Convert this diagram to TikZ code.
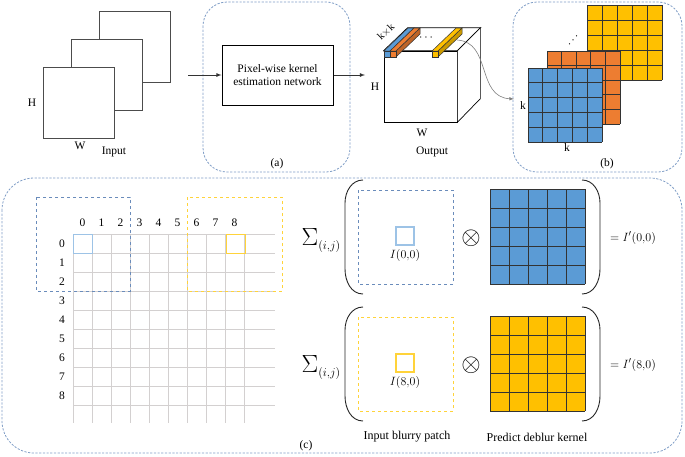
\documentclass[tikz,border=0pt]{standalone}
\usepackage{fontspec}
\setmainfont{Liberation Serif}
\usepackage{amsmath}
\usetikzlibrary{arrows, positioning, calc}
\definecolor{kblue}{HTML}{5B9BD5}
\definecolor{korange}{HTML}{ED7D31}
\definecolor{kyellow}{HTML}{FFC000}
\definecolor{frameblue}{HTML}{7F9DC6}
\definecolor{patchblue}{HTML}{6A8CBB}
\definecolor{patchyellow}{HTML}{FFD33A}
\definecolor{cellblue}{HTML}{9DC3E6}
\definecolor{gridgray}{HTML}{D3D0D0}

\begin{document}
\begin{tikzpicture}[x=1pt, y=-1pt, >=latex, font=\fontsize{11.5}{13.5}\selectfont,
    frame/.style={draw=frameblue, dash pattern=on 2.2pt off 1.5pt, line width=0.8pt},
    sheet/.style={draw=black!70, fill=white, line width=0.8pt, minimum size=71pt, inner sep=0pt},
    kline/.style={draw=black!80, line width=0.7pt},
    paren/.style={draw=black!85, line width=0.9pt}]
    \useasboundingbox (0,0) rectangle (685,456);

    % frames
    \draw[frame, rounded corners=24pt] (203,2) rectangle (350,172);
    \draw[frame, rounded corners=24pt] (513,2) rectangle (682,172);
    \draw[frame, rounded corners=32pt] (2,178) rectangle (682,453);
    \node (labA) at (277,164) {(a)};
    \node (labB) at (607,164) {(b)};
    \node (labC) at (306,446) {(c)};

    % input
    \node[sheet] (inC) at (134.5,47) {};
    \node[sheet] (inB) at (106.5,74.5) {};
    \node[sheet] (inA) at (78.5,102.5) {};
    \node (inH) at (32,103) {H};
    \node (inW) at (80,146) {W};
    \node (inLab) at (114,152) {Input};

    \node[draw, line width=1pt, minimum width=111pt, minimum height=60pt, align=center] (net) at (277.5,75) {Pixel-wise kernel\\estimation network};
    \coordinate (in0) at (188,75);
    \coordinate (out0) at (365,75);
    \draw[->, thick, black!80] (in0) -- (net.west);
    \draw[->, thick, black!80] (net.east) -- (out0);

    % output cube
    \node[draw, line width=0.7pt, minimum width=73pt, minimum height=71pt, inner sep=0pt] (cube) at (420.5,86.5) {};
    \draw[line width=0.7pt, fill=white] (cube.north west) -- ++(24,-23) -- ++(73,0) -- (cube.north east) -- cycle;
    \draw[line width=0.7pt, fill=white] (cube.north east) -- ++(23,-23) -- ++(0,71) -- (cube.south east) -- cycle;
    \foreach \bx/\bc in {384/kblue, 390/korange, 432/kyellow} {
        \draw[black!80, line width=0.5pt, fill=\bc!80!black] (\bx+6,51) -- (\bx+30,28) -- (\bx+30,34) -- (\bx+6,57) -- cycle;
        \draw[black!80, line width=0.5pt, fill=\bc] (\bx,51) -- (\bx+6,51) -- (\bx+30,28) -- (\bx+24,28) -- cycle;
        \draw[black!80, line width=0.5pt, fill=\bc] (\bx,51) rectangle (\bx+6,57);
    }
    \node[rotate=44, inner sep=0pt, font=\fontsize{10.5}{12}\selectfont] (kk) at (386,32) {k$\times$k};
    \node (cdots) at (427,38) {$\cdots$};
    \node (cubeH) at (375,87) {H};
    \node (cubeW) at (422,133) {W};
    \node (outLab) at (432,152) {Output};

    \coordinate (bar) at (457,40);
    \coordinate (kin) at (514,99);
    \draw[->, gray, line width=0.6pt] (bar) .. controls (492,42) and (476,97) .. (kin);

    % kernels in (b)
    \foreach \kx/\ky/\ks/\kc in {587/5/15/kyellow, 547/51/14.6/korange, 528/68/14.8/kblue} {
        \fill[\kc] (\kx,\ky) rectangle ({\kx+5*\ks},{\ky+5*\ks});
        \foreach \i in {0,...,5} {
            \draw[kline] ({\kx+\i*\ks},\ky) -- ({\kx+\i*\ks},{\ky+5*\ks});
            \draw[kline] (\kx,{\ky+\i*\ks}) -- ({\kx+5*\ks},{\ky+\i*\ks});
        }
    }
    \node[rotate=50, inner sep=0pt] (kdots) at (574,40) {$\cdots$};
    \node (kL) at (523,106) {k};
    \node (kB) at (567,148) {k};

    % image grid
    \foreach \i in {0,...,9} {
        \draw[gridgray, line width=0.7pt] (73+19*\i,234) -- (73+19*\i,423);
        \draw[gridgray, line width=0.7pt] (73,234+19*\i) -- (275,234+19*\i);
    }
    \foreach \i in {0,...,8} {
        \node (col\i) at (82.5+19*\i,223) {\i};
        \node (row\i) at (62,243.5+19*\i) {\i};
    }
    \draw[patchblue, dashed, line width=0.9pt] (36,197) rectangle (130,291);
    \draw[patchyellow, dashed, line width=0.9pt] (187,197) rectangle (282,291);
    \draw[cellblue, line width=1pt] (73,234) rectangle (92,253);
    \draw[patchyellow, line width=1pt] (226,234) rectangle (245,253);

    % sums
    \foreach \ry/\pc/\sc/\kc/\px/\lab in {189/patchblue/cellblue/kblue/0/top, 316/patchyellow/patchyellow/kyellow/8/bot} {
        \node (sum\lab) at (321,\ry+51) {\fontsize{25}{25}\selectfont$\Sigma$\fontsize{12.5}{14}\selectfont\raisebox{-4pt}{$(i{,}j)$}};
        \draw[paren] (363,\ry-9) to[out=180, in=90] (345,\ry+14) -- (345,\ry+80) to[out=-90, in=180] (363,\ry+105);
        \draw[paren] (582,\ry-9) to[out=0, in=90] (600,\ry+14) -- (600,\ry+80) to[out=-90, in=0] (582,\ry+105);
        \draw[\pc, dashed, line width=0.9pt] (358,\ry+1) rectangle (453,\ry+95);
        \draw[\sc, line width=1.1pt] (396,\ry+38) rectangle (414,\ry+56);
        \node (pix\lab) at (405,\ry+66) {$I(\px{,}0)$};
        \node (otimes\lab) at (471,\ry+49) {\fontsize{30}{30}\selectfont$\otimes$};
        \fill[\kc] (490,\ry) rectangle (585,\ry+95);
        \foreach \i in {0,...,5} {
            \draw[kline] (490+19*\i,\ry) -- (490+19*\i,\ry+95);
            \draw[kline] (490,\ry+19*\i) -- (585,\ry+19*\i);
        }
        \node (res\lab) at (633,\ry+49) {\fontsize{12.5}{14}\selectfont$=I'(\px{,}0)$};
    }
    \node[font=\fontsize{12}{14}\selectfont] (patchLab) at (407,437) {Input blurry patch};
    \node[font=\fontsize{12}{14}\selectfont] (kernLab) at (537,437) {Predict deblur kernel};
\end{tikzpicture}
\end{document}
